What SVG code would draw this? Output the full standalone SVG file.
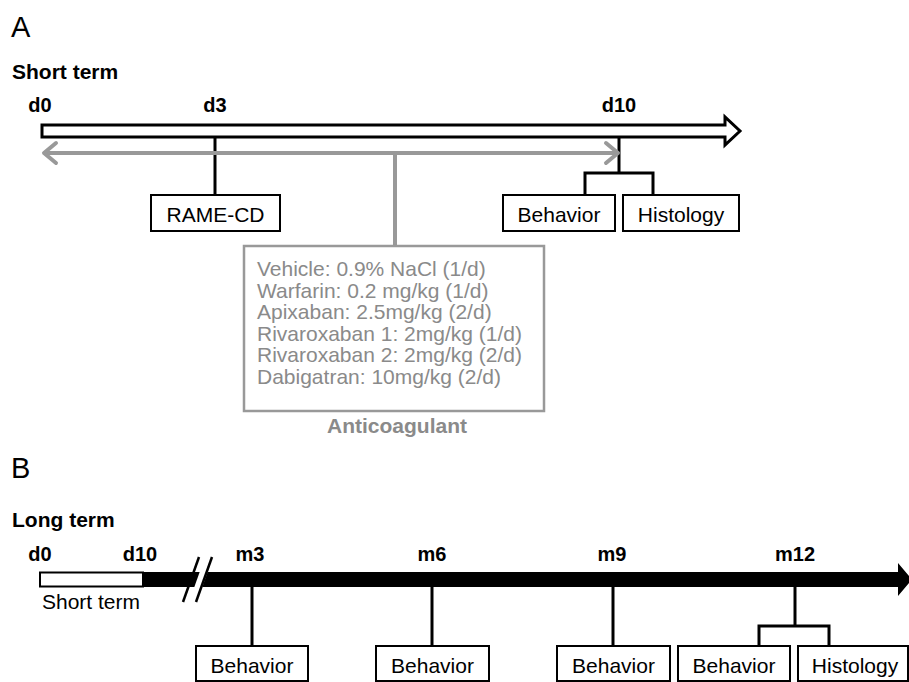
<svg xmlns="http://www.w3.org/2000/svg" width="909" height="682" viewBox="0 0 909 682">
<style>
text{font-family:"Liberation Sans",Arial,sans-serif;fill:#000}
.lbl{font-size:21px;font-weight:bold}
.tick{font-size:20px;font-weight:bold;text-anchor:middle}
.box{fill:#fff;stroke:#000;stroke-width:2}
.bt{font-size:21px;text-anchor:middle}
.ln{stroke:#000;stroke-width:3;fill:none}
.gray{stroke:#999;stroke-width:4;fill:none;stroke-linecap:round;stroke-linejoin:round}
.gt{font-size:21px;fill:#8a8a8a}
</style>
<rect width="909" height="682" fill="#fff"/>
<text x="11" y="37" style="font-size:29px">A</text>
<text x="12" y="79" class="lbl">Short term</text>
<g id="ticksA">
<text x="40" y="112" class="tick">d0</text>
<text x="215" y="112" class="tick">d3</text>
<text x="619" y="112" class="tick">d10</text>
</g>
<g id="timelineA">
<polygon points="42,125 725,125 725,117 740,131 725,145 725,137 42,137" fill="#fff" stroke="#000" stroke-width="3" stroke-linejoin="miter"/>
</g>
<g id="connectors">
<line x1="215" y1="137" x2="215" y2="195" class="ln"/>
<line x1="619" y1="137" x2="619" y2="173" class="ln"/>
<polyline points="585,195 585,173 653,173 653,195" class="ln"/>
<line x1="46" y1="153" x2="616" y2="153" class="gray"/>
<polyline points="56,143 44,153 56,163" class="gray"/>
<polyline points="606,143 618,153 606,163" class="gray"/>
<line x1="395" y1="153" x2="395" y2="246" stroke="#999" stroke-width="4"/>
<line x1="252" y1="587" x2="252" y2="646" class="ln"/>
<line x1="432" y1="587" x2="432" y2="646" class="ln"/>
<line x1="613" y1="587" x2="613" y2="646" class="ln"/>
<line x1="795" y1="587" x2="795" y2="626" class="ln"/>
<polyline points="759,646 759,626 829,626 829,646" class="ln"/>
</g>
<g id="rame">
<rect x="151" y="195" width="129" height="36" class="box"/>
<text x="215.5" y="222" class="bt">RAME-CD</text>
</g>
<g id="behaviorA">
<rect x="503" y="195" width="112" height="36" class="box"/>
<text x="559" y="222" class="bt">Behavior</text>
</g>
<g id="histologyA">
<rect x="623" y="195" width="116" height="36" class="box"/>
<text x="681" y="222" class="bt">Histology</text>
</g>
<g id="anticoagulant">
<rect x="244" y="246" width="300" height="165" fill="#fff" stroke="#999" stroke-width="2.5"/>
<text x="257" y="276" class="gt">Vehicle: 0.9% NaCl (1/d)</text>
<text x="257" y="297.5" class="gt">Warfarin: 0.2 mg/kg (1/d)</text>
<text x="257" y="319" class="gt">Apixaban: 2.5mg/kg (2/d)</text>
<text x="257" y="340.5" class="gt">Rivaroxaban 1: 2mg/kg (1/d)</text>
<text x="257" y="362" class="gt">Rivaroxaban 2: 2mg/kg (2/d)</text>
<text x="257" y="383.5" class="gt">Dabigatran: 10mg/kg (2/d)</text>
<text x="397" y="433" style="font-size:21px;font-weight:bold;fill:#8a8a8a;text-anchor:middle">Anticoagulant</text>
</g>
<text x="11" y="478" style="font-size:29px">B</text>
<text x="12" y="527" class="lbl">Long term</text>
<g id="ticksB">
<text x="40" y="561" class="tick">d0</text>
<text x="140" y="561" class="tick">d10</text>
<text x="250" y="561" class="tick">m3</text>
<text x="432" y="561" class="tick">m6</text>
<text x="612" y="561" class="tick">m9</text>
<text x="795" y="561" class="tick">m12</text>
</g>
<g id="timelineB">
<polygon points="143,572 898,572 898,563 912,579.5 898,596 898,587 143,587" fill="#000"/>
<rect x="40" y="572.5" width="103" height="14" fill="#fff" stroke="#000" stroke-width="2"/>
<polygon points="189,602 205,557 213,557 197,602" fill="#fff"/>
<line x1="183" y1="602" x2="199" y2="557" stroke="#000" stroke-width="2.5"/>
<line x1="196" y1="602" x2="212" y2="557" stroke="#000" stroke-width="2.5"/>
<text x="91" y="609" class="bt">Short term</text>
</g>
<g id="behaviorM3">
<rect x="196" y="646" width="112" height="35" class="box"/>
<text x="252" y="673" class="bt">Behavior</text>
</g>
<g id="behaviorM6">
<rect x="376" y="646" width="113" height="35" class="box"/>
<text x="432.5" y="673" class="bt">Behavior</text>
</g>
<g id="behaviorM9">
<rect x="557" y="646" width="113" height="35" class="box"/>
<text x="613.5" y="673" class="bt">Behavior</text>
</g>
<g id="behaviorM12">
<rect x="678" y="646" width="112" height="35" class="box"/>
<text x="734" y="673" class="bt">Behavior</text>
</g>
<g id="histologyM12">
<rect x="798" y="646" width="110" height="35" class="box"/>
<text x="855" y="673" class="bt">Histology</text>
</g>
</svg>
